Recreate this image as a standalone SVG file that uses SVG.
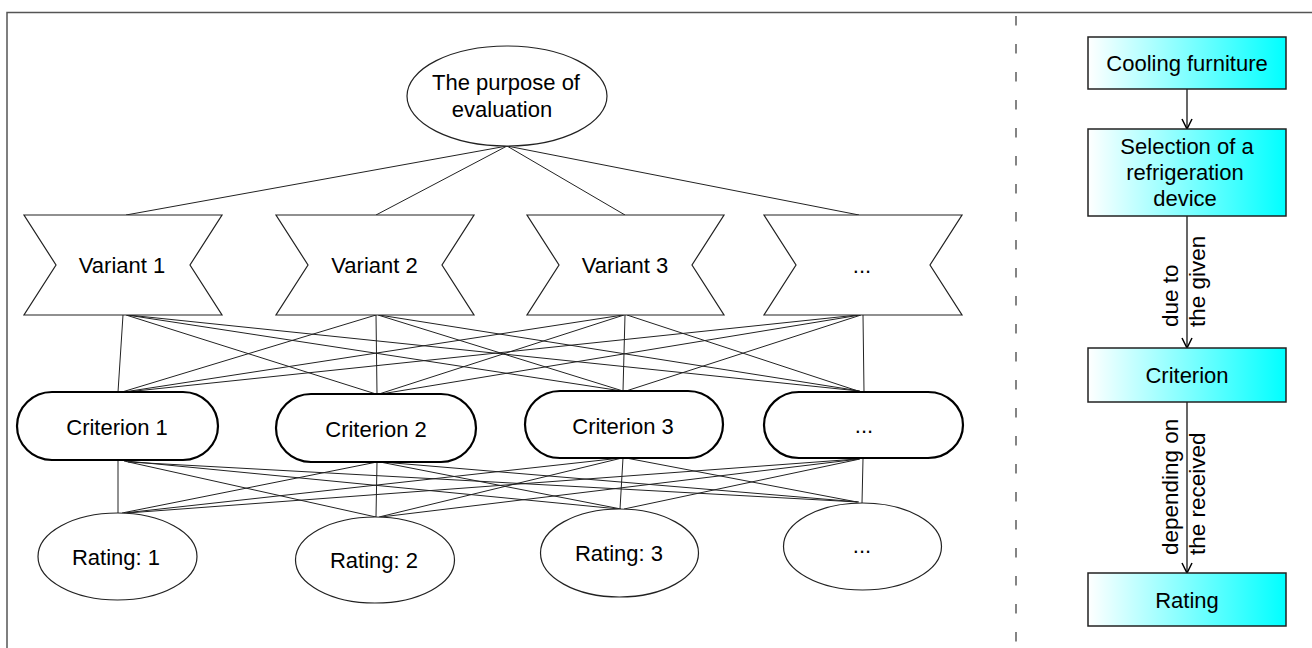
<svg xmlns="http://www.w3.org/2000/svg" width="1312" height="648" viewBox="0 0 1312 648">
<defs>
<linearGradient id="cy" x1="0" y1="0" x2="1" y2="0">
<stop offset="0" stop-color="#ffffff"/>
<stop offset="1" stop-color="#00ffff"/>
</linearGradient>
<marker id="arr" viewBox="0 0 12 12" refX="11" refY="6" markerWidth="12" markerHeight="12" markerUnits="userSpaceOnUse" orient="auto">
<path d="M1,1 L11,6 L1,11" fill="none" stroke="#000" stroke-width="1.5"/>
</marker>
</defs>
<style>
text{font-family:"Liberation Sans",Arial,sans-serif;font-size:22px;fill:#000}
.c{text-anchor:middle}
.lbl{font-size:22.5px}
.sh{fill:#fff;stroke:#222;stroke-width:1.2}
.crit{fill:#fff;stroke:#000;stroke-width:2.2}
.box{fill:url(#cy);stroke:#222;stroke-width:1.5}
.ln{stroke:#222;stroke-width:1;fill:none}
.ar{stroke:#000;stroke-width:1.2;fill:none;marker-end:url(#arr)}
</style>
<rect x="7" y="12.5" width="1330" height="660" fill="none" stroke="#555" stroke-width="1.5"/>
<line x1="1016" y1="16" x2="1016" y2="646" stroke="#666" stroke-width="1.6" stroke-dasharray="9.5 18.5"/>
<g id="connectors">
<line class="ln" x1="507" y1="146" x2="126" y2="215"/>
<line class="ln" x1="507" y1="146" x2="376" y2="215"/>
<line class="ln" x1="507" y1="146" x2="625" y2="215"/>
<line class="ln" x1="507" y1="146" x2="859" y2="215"/>
<line class="ln" x1="123" y1="315" x2="118" y2="392"/>
<line class="ln" x1="126" y1="315" x2="376" y2="394"/>
<line class="ln" x1="127" y1="315" x2="622" y2="391"/>
<line class="ln" x1="128" y1="315" x2="859" y2="391"/>
<line class="ln" x1="376" y1="315" x2="122" y2="392"/>
<line class="ln" x1="376" y1="315" x2="377" y2="394"/>
<line class="ln" x1="378" y1="315" x2="623" y2="391"/>
<line class="ln" x1="379" y1="315" x2="860" y2="391"/>
<line class="ln" x1="623" y1="315" x2="124" y2="392"/>
<line class="ln" x1="624" y1="315" x2="379" y2="394"/>
<line class="ln" x1="625" y1="315" x2="623" y2="391"/>
<line class="ln" x1="627" y1="315" x2="858" y2="391"/>
<line class="ln" x1="858" y1="315" x2="126" y2="392"/>
<line class="ln" x1="860" y1="315" x2="381" y2="394"/>
<line class="ln" x1="861" y1="315" x2="626" y2="391"/>
<line class="ln" x1="863" y1="315" x2="864" y2="392"/>
<line class="ln" x1="118" y1="460" x2="118" y2="513"/>
<line class="ln" x1="124" y1="461" x2="376" y2="517"/>
<line class="ln" x1="126" y1="461" x2="619" y2="509"/>
<line class="ln" x1="128" y1="462" x2="858" y2="502"/>
<line class="ln" x1="377" y1="462" x2="122" y2="513"/>
<line class="ln" x1="377" y1="462" x2="376" y2="517"/>
<line class="ln" x1="380" y1="462" x2="621" y2="509"/>
<line class="ln" x1="382" y1="462" x2="859" y2="502"/>
<line class="ln" x1="621" y1="458" x2="124" y2="513"/>
<line class="ln" x1="622" y1="458" x2="379" y2="517"/>
<line class="ln" x1="623" y1="458" x2="620" y2="509"/>
<line class="ln" x1="626" y1="458" x2="857" y2="502"/>
<line class="ln" x1="857" y1="459" x2="127" y2="513"/>
<line class="ln" x1="859" y1="459" x2="381" y2="517"/>
<line class="ln" x1="860" y1="459" x2="624" y2="509"/>
<line class="ln" x1="863" y1="459" x2="862" y2="503"/>
<line class="ar" x1="1187" y1="89" x2="1187" y2="129"/>
<line class="ar" x1="1187" y1="216" x2="1187" y2="348"/>
<line class="ar" x1="1187" y1="402" x2="1187" y2="573"/>
<text class="lbl" transform="translate(1178,327) rotate(-90)">due to</text>
<text class="lbl" transform="translate(1205,327) rotate(-90)">the given</text>
<text class="lbl" transform="translate(1178,555) rotate(-90)">depending on</text>
<text class="lbl" transform="translate(1205,555) rotate(-90)">the received</text>
</g>
<g id="purpose">
<ellipse class="sh" cx="507" cy="96" rx="100" ry="50"/>
<text class="c" x="506" y="90">The purpose of</text>
<text class="c" x="502" y="116.5">evaluation</text>
</g>
<g id="variant1">
<polygon class="sh" points="24,215 222,215 190,265 222,315 24,315 56,265"/>
<text class="c" x="122" y="273">Variant 1</text>
</g>
<g id="variant2">
<polygon class="sh" points="276,215 474,215 442,265 474,315 276,315 308,265"/>
<text class="c" x="374.5" y="273">Variant 2</text>
</g>
<g id="variant3">
<polygon class="sh" points="527,215 724,215 692,265 724,315 527,315 559,265"/>
<text class="c" x="625" y="273">Variant 3</text>
</g>
<g id="variant4">
<polygon class="sh" points="764,215 962,215 930,265 962,315 764,315 796,265"/>
<text class="c" x="862" y="273">...</text>
</g>
<g id="criterion1">
<rect class="crit" x="17" y="392" width="201" height="68" rx="35" ry="34"/>
<text class="c" x="117" y="435">Criterion 1</text>
</g>
<g id="criterion2">
<rect class="crit" x="276" y="394" width="200" height="68" rx="35" ry="34"/>
<text class="c" x="376" y="437">Criterion 2</text>
</g>
<g id="criterion3">
<rect class="crit" x="525" y="391" width="198" height="67" rx="35" ry="33.5"/>
<text class="c" x="623" y="433.5">Criterion 3</text>
</g>
<g id="criterion4">
<rect class="crit" x="764" y="392" width="199" height="66" rx="35" ry="33"/>
<text class="c" x="864" y="433">...</text>
</g>
<g id="rating1">
<ellipse class="sh" cx="117.5" cy="556.5" rx="79.5" ry="43.5"/>
<text class="c" x="116" y="565">Rating: 1</text>
</g>
<g id="rating2">
<ellipse class="sh" cx="375" cy="560" rx="79.5" ry="43"/>
<text class="c" x="374" y="568">Rating: 2</text>
</g>
<g id="rating3">
<ellipse class="sh" cx="619.5" cy="553" rx="79" ry="44"/>
<text class="c" x="619" y="561">Rating: 3</text>
</g>
<g id="rating4">
<ellipse class="sh" cx="862.5" cy="546.5" rx="79" ry="43.5"/>
<text class="c" x="862" y="553">...</text>
</g>
<g id="cooling">
<rect class="box" x="1088" y="37" width="198" height="52"/>
<text class="c" x="1187" y="71">Cooling furniture</text>
</g>
<g id="selection">
<rect class="box" x="1088" y="129" width="198" height="87"/>
<text class="c" x="1187" y="153.5">Selection of a</text>
<text class="c" x="1185" y="179.5">refrigeration</text>
<text class="c" x="1185" y="205.5">device</text>
</g>
<g id="criterion">
<rect class="box" x="1088" y="348" width="198" height="54"/>
<text class="c" x="1187" y="382.5">Criterion</text>
</g>
<g id="rating">
<rect class="box" x="1088" y="573" width="198" height="53"/>
<text class="c" x="1187" y="608">Rating</text>
</g>
</svg>
